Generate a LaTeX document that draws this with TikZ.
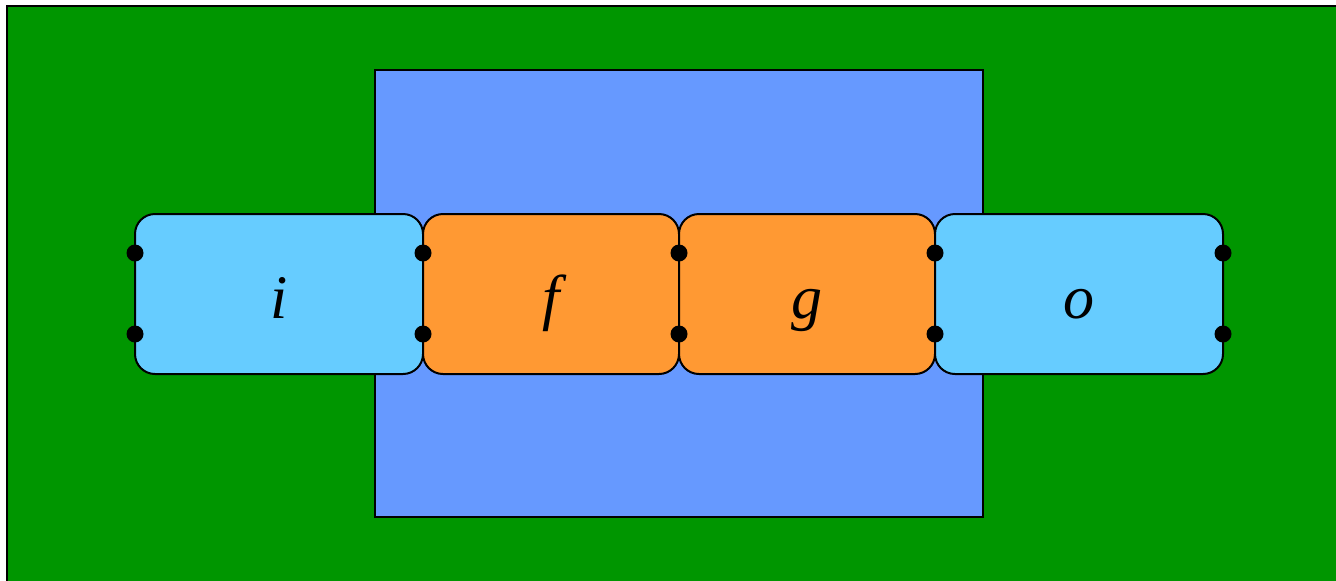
\documentclass[tikz,border=0pt]{standalone}
\usepackage{fontspec}
\setmainfont{Liberation Serif}
\usepackage{tikz}
\definecolor{bggreen}{RGB}{0,150,0}
\definecolor{midblue}{RGB}{102,153,255}
\definecolor{lightblue}{RGB}{102,204,255}
\definecolor{boxorange}{RGB}{255,153,51}
\tikzset{
  px/.style={x=0.5pt,y=-0.5pt},
  box/.style={draw=black,line width=1pt,rounded corners=10pt,minimum height=80pt,inner sep=0pt,outer sep=0pt,text height=24pt,text depth=0pt,font=\fontsize{31}{36}\selectfont\itshape},
  port/.style={circle,fill=black,inner sep=0pt,minimum size=8.5pt}
}
\begin{document}
\begin{tikzpicture}[px]
\useasboundingbox (0,0) rectangle (1336,580);
\begin{scope}
\clip (0,0) rectangle (1336,580);
\filldraw[fill=bggreen,draw=black,line width=1pt] (7,6) rectangle (1400,640);
\end{scope}
\filldraw[fill=midblue,draw=black,line width=1pt] (375,70) rectangle (983,517);
\node[box,fill=lightblue,minimum width=144pt] (i) at (279,294) {i};
\node[box,fill=boxorange,minimum width=128pt] (f) at (551,294) {f};
\node[box,fill=boxorange,minimum width=128pt] (g) at (807,294) {g};
\node[box,fill=lightblue,minimum width=144pt] (o) at (1079,294) {o};
\foreach \x/\n in {135/a,423/b,679/c,935/d,1223/e}{
  \node[port] (\n1) at (\x,253) {};
  \node[port] (\n2) at (\x,334) {};
}
\end{tikzpicture}
\end{document}
